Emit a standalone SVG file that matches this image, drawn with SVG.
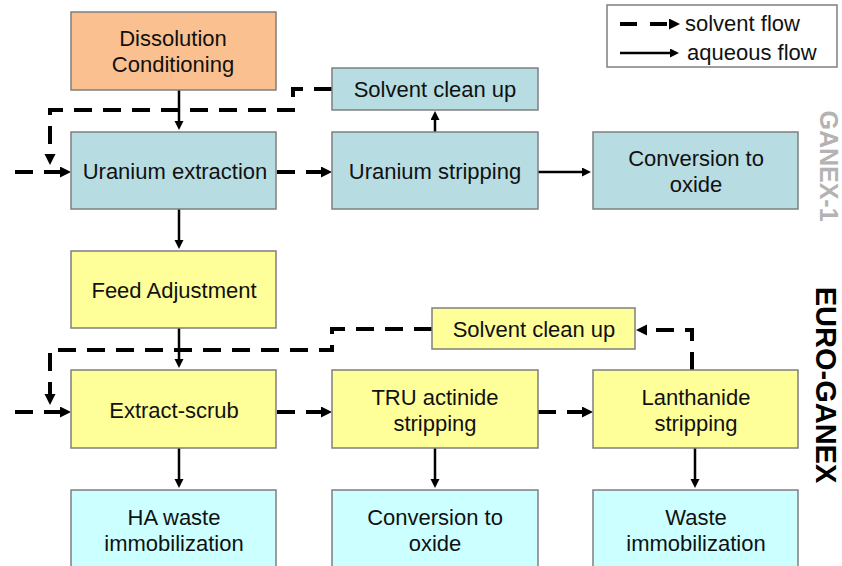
<svg xmlns="http://www.w3.org/2000/svg" width="842" height="566" viewBox="0 0 842 566">
  <style>
    .box { stroke: #7f7f7f; stroke-width: 1.5; }
    .orange { fill: #fac090; }
    .teal { fill: #b7dde2; }
    .yellow { fill: #ffff99; }
    .cyan { fill: #ccffff; }
    .lbl { font-family: "Liberation Sans", Arial, sans-serif; font-size: 22px; fill: #111; text-anchor: middle; }
    .leg { font-family: "Liberation Sans", Arial, sans-serif; font-size: 22px; fill: #111; }
    .side { font-family: "Liberation Sans", Arial, sans-serif; font-weight: bold; text-anchor: middle; }
    .aq { fill: none; stroke: #000; stroke-width: 2.5; marker-end: url(#headAq); }
    .sv { fill: none; stroke: #000; stroke-width: 4; stroke-dasharray: 18 11; marker-end: url(#headSv); }
  </style>
  <defs>
    <marker id="headAq" markerUnits="userSpaceOnUse" markerWidth="10" markerHeight="10" refX="3" refY="4.5" orient="auto">
      <path d="M0,0 L9,4.5 L0,9 z" fill="#000"/>
    </marker>
    <marker id="headSv" markerUnits="userSpaceOnUse" markerWidth="12" markerHeight="12" refX="3" refY="5.5" orient="auto">
      <path d="M0,0 L11,5.5 L0,11 z" fill="#000"/>
    </marker>
  </defs>

  <rect x="0" y="0" width="842" height="566" fill="#fff"/>

  <!-- connectors -->
  <g id="connectors">
    <!-- aqueous flow -->
    <path class="aq" d="M179,90 V124"/>
    <path class="aq" d="M179,209 V243"/>
    <path class="aq" d="M179,328 V362"/>
    <path class="aq" d="M435,132 V117"/>
    <path class="aq" d="M538,172 H585"/>
    <path class="aq" d="M179,448 V482"/>
    <path class="aq" d="M435,448 V482"/>
    <path class="aq" d="M695,448 V482"/>
    <!-- solvent flow -->
    <path class="sv" d="M15,172 H63"/>
    <path class="sv" d="M277,172 H324"/>
    <path class="sv" d="M332,89 H293 V110 H50 V157"/>
    <path class="sv" d="M15,412 H63"/>
    <path class="sv" d="M277,412 H324"/>
    <path class="sv" d="M538,412 H585"/>
    <path class="sv" d="M432,329 H332 V350 H50 V397"/>
    <path class="sv" d="M692,370 V330 H644"/>
  </g>

  <!-- GANEX-1 cycle -->
  <g id="dissolution">
    <rect class="box orange" x="71" y="12" width="205" height="78"/>
    <text class="lbl" x="173" y="46">Dissolution</text>
    <text class="lbl" x="173" y="72">Conditioning</text>
  </g>
  <g id="uranium-extraction">
    <rect class="box teal" x="71" y="132" width="205" height="77"/>
    <text class="lbl" x="175" y="179">Uranium extraction</text>
  </g>
  <g id="solvent-cleanup-1">
    <rect class="box teal" x="332" y="68" width="206" height="42"/>
    <text class="lbl" x="435" y="97">Solvent clean up</text>
  </g>
  <g id="uranium-stripping">
    <rect class="box teal" x="332" y="132" width="206" height="77"/>
    <text class="lbl" x="435" y="179">Uranium stripping</text>
  </g>
  <g id="uranium-oxide">
    <rect class="box teal" x="593" y="132" width="205" height="77"/>
    <text class="lbl" x="696" y="166">Conversion to</text>
    <text class="lbl" x="696" y="192">oxide</text>
  </g>

  <!-- EURO-GANEX cycle -->
  <g id="feed-adjustment">
    <rect class="box yellow" x="71" y="251" width="205" height="77"/>
    <text class="lbl" x="174" y="298">Feed Adjustment</text>
  </g>
  <g id="solvent-cleanup-2">
    <rect class="box yellow" x="432" y="308" width="203" height="41"/>
    <text class="lbl" x="534" y="337">Solvent clean up</text>
  </g>
  <g id="extract-scrub">
    <rect class="box yellow" x="71" y="370" width="205" height="78"/>
    <text class="lbl" x="174" y="418">Extract-scrub</text>
  </g>
  <g id="tru-stripping">
    <rect class="box yellow" x="332" y="370" width="206" height="78"/>
    <text class="lbl" x="435" y="405">TRU actinide</text>
    <text class="lbl" x="435" y="431">stripping</text>
  </g>
  <g id="lanthanide-stripping">
    <rect class="box yellow" x="593" y="370" width="205" height="78"/>
    <text class="lbl" x="696" y="405">Lanthanide</text>
    <text class="lbl" x="696" y="431">stripping</text>
  </g>

  <!-- products -->
  <g id="ha-waste">
    <rect class="box cyan" x="71" y="490" width="205" height="82"/>
    <text class="lbl" x="174" y="525">HA waste</text>
    <text class="lbl" x="174" y="551">immobilization</text>
  </g>
  <g id="tru-oxide">
    <rect class="box cyan" x="332" y="490" width="206" height="82"/>
    <text class="lbl" x="435" y="525">Conversion to</text>
    <text class="lbl" x="435" y="551">oxide</text>
  </g>
  <g id="ln-waste">
    <rect class="box cyan" x="593" y="490" width="205" height="82"/>
    <text class="lbl" x="696" y="525">Waste</text>
    <text class="lbl" x="696" y="551">immobilization</text>
  </g>

  <!-- legend -->
  <g id="legend">
    <rect x="607" y="5" width="230" height="62" fill="#fff" stroke="#7f7f7f" stroke-width="1.5"/>
    <path d="M620,24 H672" fill="none" stroke="#000" stroke-width="4" stroke-dasharray="17 13" marker-end="url(#headSv)"/>
    <text class="leg" x="685" y="31">solvent flow</text>
    <path d="M620,53 H673" fill="none" stroke="#000" stroke-width="2.5" marker-end="url(#headAq)"/>
    <text class="leg" x="687" y="60">aqueous flow</text>
  </g>

  <!-- cycle labels -->
  <g id="label-ganex1">
    <text class="side" transform="translate(829,166) rotate(90)" x="0" y="9" font-size="25" fill="#b3b3b3">GANEX-1</text>
  </g>
  <g id="label-euroganex">
    <text class="side" transform="translate(826,385) rotate(90)" x="0" y="10" font-size="29" fill="#000">EURO-GANEX</text>
  </g>
</svg>
